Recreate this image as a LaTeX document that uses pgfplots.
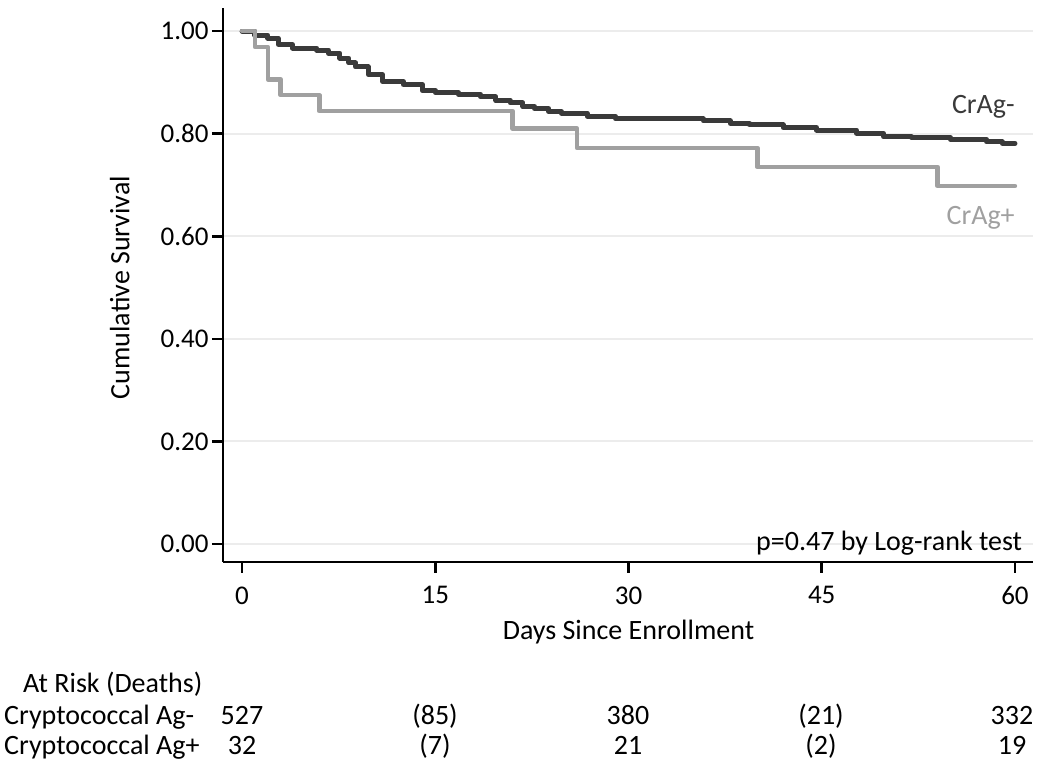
\documentclass[border=0pt]{standalone}
\usepackage{fontspec}
\setmainfont{Carlito}
\usepackage{pgfplots}
\pgfplotsset{compat=1.18}
\definecolor{darkline}{RGB}{58,58,58}
\definecolor{lightline}{RGB}{160,160,160}
\definecolor{gridc}{RGB}{236,236,236}
\newcommand{\lbl}{\fontsize{28}{32}\selectfont}
\begin{document}
\begin{tikzpicture}[x=1pt,y=1pt]
\path[use as bounding box] (0,0) rectangle (1050,771);
\begin{axis}[
  at={(223pt,209pt)}, anchor=south west,
  scale only axis, width=810pt, height=554pt,
  xmin=-1.48, xmax=61.4, ymin=-0.035, ymax=1.045,
  axis x line*=bottom, axis y line*=left,
  axis line style={line width=2pt, black},
  xtick={0,15,30,45,60}, ytick={0,0.2,0.4,0.6,0.8,1},
  minor tick num=0,
  tick align=outside, major tick length=11pt,
  tick style={line width=2.5pt, black},
  /pgf/number format/assume math mode=true,
  yticklabel style={/pgf/number format/fixed, /pgf/number format/fixed zerofill, /pgf/number format/precision=2},
  xticklabel style={yshift=-10pt},
  tick label style={font=\fontsize{27}{30}\selectfont},
  ymajorgrids, grid style={gridc, line width=2pt},
  xlabel={Days Since Enrollment}, ylabel={Cumulative Survival},
  every axis x label/.style={at={(axis cs:30,-0.172)}, anchor=center, font=\lbl},
  every axis y label/.style={at={(axis cs:-9.5,0.5)}, rotate=90, anchor=center, font=\lbl},
  clip=false,
]
\addplot[const plot, darkline, line width=5pt, line cap=round, line join=round] coordinates {
(0,1.000) (1,0.992) (2,0.986) (2.8,0.974) (3.9,0.967) (5.8,0.963) (6.7,0.957)
(7.6,0.947) (8.3,0.938) (8.8,0.930) (9.8,0.915) (10.9,0.902) (12.5,0.896)
(14,0.884) (15,0.880) (16.8,0.877) (18.5,0.872) (19.7,0.865) (20.8,0.860)
(21.8,0.853) (22.7,0.849) (23.8,0.843) (24.8,0.840) (26.8,0.834) (29,0.829)
(35.8,0.825) (37.9,0.820) (39.4,0.817) (42,0.812) (44.6,0.807) (47.7,0.801)
(49.8,0.794) (52,0.792) (55,0.789) (57.8,0.784) (59,0.781) (60,0.781)
};
\addplot[const plot, lightline, line width=4.5pt, line cap=round, line join=round] coordinates {
(0,1.000) (1,0.969) (2,0.906) (3,0.875) (6,0.844) (21,0.810) (26,0.772)
(40,0.735) (54,0.698) (60,0.698)
};
\node[anchor=east, text=darkline, font=\lbl] at (axis cs:60.25,0.852) {CrAg-};
\node[anchor=east, text=lightline, font=\lbl] at (axis cs:60.25,0.635) {CrAg+};
\node[anchor=east, inner sep=0pt, font=\lbl] at (axis cs:60.57,0.002) {p=0.47 by Log-rank test};
\end{axis}
\begin{scope}[every node/.style={inner sep=0pt, font=\lbl}]
\node[anchor=base west] at (23,78) {At Risk (Deaths)};
\node[anchor=base west] at (4,46) {Cryptococcal Ag-};
\node[anchor=base west] at (4,16) {Cryptococcal Ag+};
\node[anchor=base] at (242,46) {527};
\node[anchor=base] at (435,46) {(85)};
\node[anchor=base] at (628,46) {380};
\node[anchor=base] at (821,46) {(21)};
\node[anchor=base] at (1012,46) {332};
\node[anchor=base] at (242,16) {32};
\node[anchor=base] at (435,16) {(7)};
\node[anchor=base] at (628,16) {21};
\node[anchor=base] at (821,16) {(2)};
\node[anchor=base] at (1012,16) {19};
\end{scope}
\end{tikzpicture}
\end{document}
